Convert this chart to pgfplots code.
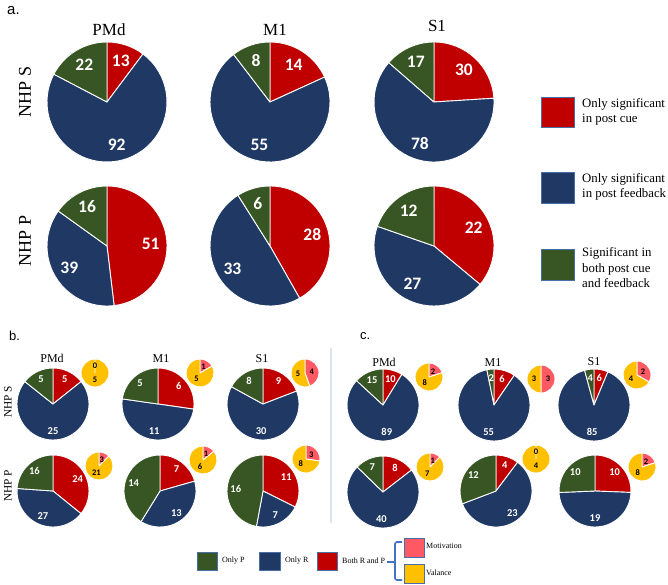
\documentclass[border=0pt]{standalone}
\usepackage{pgfplots}
\pgfplotsset{compat=1.18}
\usepackage{fontspec}
\setmainfont{Liberation Serif}
\newfontfamily\calfont{Carlito}
\newfontfamily\arialfont{Liberation Sans}

\definecolor{pRed}{HTML}{C00000}
\definecolor{pBlue}{HTML}{1F3864}
\definecolor{pGreen}{HTML}{375623}
\definecolor{pPink}{HTML}{FF5A64}
\definecolor{pYellow}{HTML}{FFC000}
\definecolor{legEdge}{HTML}{4A6FA8}
\definecolor{braceC}{HTML}{4472C4}
\definecolor{sepC}{HTML}{DCE3F0}

\tikzset{
 lbigA/.style={font=\calfont\bfseries\fontsize{17.5bp}{18bp}\selectfont, text=white, inner sep=0pt},
 lmid/.style={font=\calfont\bfseries\fontsize{10.5bp}{11bp}\selectfont, text=white, inner sep=0pt},
 lsmall/.style={font=\calfont\bfseries\fontsize{8.5bp}{9bp}\selectfont, text=black, inner sep=0pt},
 ttl/.style={font=\fontsize{17bp}{18bp}\selectfont, anchor=base, inner sep=0pt},
 ttlb/.style={font=\fontsize{12bp}{13bp}\selectfont, anchor=base, inner sep=0pt},
 rowA/.style={font=\fontsize{18bp}{19bp}\selectfont, rotate=90, inner sep=0pt},
 rowB/.style={font=\fontsize{11.3bp}{12bp}\selectfont, rotate=90, inner sep=0pt},
 legA/.style={font=\fontsize{12.8bp}{15.5bp}\selectfont, anchor=west, align=left, inner sep=0pt},
 legB/.style={font=\fontsize{8bp}{9bp}\selectfont, anchor=west, inner sep=0pt},
 panel/.style={font=\arialfont\fontsize{15bp}{16bp}\selectfont, anchor=west, inner sep=0pt},
 panelb/.style={font=\arialfont\fontsize{13bp}{14bp}\selectfont, anchor=west, inner sep=0pt},
}

% #1 cx, #2 cy (axis units = px), #3 radius, #4 label radius fraction, #5 label style, #6 value/colour list
\newcommand\drawpie[6]{%
  \gdef\pietot{0}%
  \foreach \pv/\pc in {#6}{\pgfmathsetmacro\pietmp{\pietot+\pv}\global\let\pietot\pietmp}%
  \gdef\piecur{90}%
  \foreach \pv/\pc in {#6}{%
    \pgfmathsetmacro\pieend{\piecur-360*(\pv/\pietot)}%
    \edef\piecmd{\noexpand\fill[fill=\pc, draw=white, line width=0.9bp, line join=round] (axis cs:#1,#2) -- ++(\piecur:#3bp) arc[start angle=\piecur, end angle=\pieend, radius=#3bp] -- cycle;}%
    \piecmd
    \global\let\piecur\pieend
  }%
  \gdef\piecur{90}%
  \foreach \pv/\pc in {#6}{%
    \pgfmathsetmacro\pieend{\piecur-360*(\pv/\pietot)}%
    \pgfmathsetmacro\piemid{(\piecur+\pieend)/2}%
    \pgfmathsetmacro\pierad{#3*#4}%
    \edef\piecmd{\noexpand\path (axis cs:#1,#2) ++(\piemid:\pierad bp) node[#5] {\pv};}%
    \piecmd
    \global\let\piecur\pieend
  }%
}

\begin{document}
\begin{tikzpicture}
\begin{axis}[width=668bp, height=585bp, scale only axis,
  xmin=0, xmax=668, ymin=0, ymax=585, y dir=reverse,
  hide axis, clip=false]

% ---------- panel a ----------
\node[panel] at (axis cs:7,11) {a.};
\node[ttl] at (axis cs:109,36) {PMd};
\node[ttl] at (axis cs:275,36) {M1};
\node[ttl] at (axis cs:437,32) {S1};
\node[rowA] at (axis cs:25,92) {NHP S};
\node[rowA] at (axis cs:25,241) {NHP P};

\drawpie{107}{102}{60}{0.73}{lbigA}{13/pRed,92/pBlue,22/pGreen}
\drawpie{270}{102}{60}{0.73}{lbigA}{14/pRed,55/pBlue,8/pGreen}
\drawpie{434}{102}{60}{0.73}{lbigA}{30/pRed,78/pBlue,17/pGreen}
\drawpie{107}{246}{60}{0.73}{lbigA}{51/pRed,39/pBlue,16/pGreen}
\drawpie{270}{246}{60}{0.73}{lbigA}{28/pRed,33/pBlue,6/pGreen}
\drawpie{434}{246}{60}{0.73}{lbigA}{22/pRed,27/pBlue,12/pGreen}

\draw[fill=pRed, draw=legEdge, line width=0.8bp] (axis cs:541,97) rectangle (axis cs:574,127);
\node[legA] at (axis cs:582,112) {Only significant\\in post cue};
\draw[fill=pBlue, draw=legEdge, line width=0.8bp] (axis cs:541,172) rectangle (axis cs:574,203);
\node[legA] at (axis cs:582,187) {Only significant\\in post feedback};
\draw[fill=pGreen, draw=legEdge, line width=0.8bp] (axis cs:541,249) rectangle (axis cs:574,280);
\node[legA] at (axis cs:582,268) {Significant in\\both post cue\\and feedback};

% ---------- panel b ----------
\node[panelb] at (axis cs:9,336) {b.};
\node[ttlb] at (axis cs:52,362) {PMd};
\node[ttlb] at (axis cs:161,362) {M1};
\node[ttlb] at (axis cs:262,362) {S1};
\node[rowB] at (axis cs:8,402) {NHP S};
\node[rowB] at (axis cs:8,486) {NHP P};

\drawpie{53}{404}{36}{0.76}{lmid}{5/pRed,25/pBlue,5/pGreen}
\drawpie{158}{404}{36}{0.76}{lmid}{6/pRed,11/pBlue,5/pGreen}
\drawpie{263}{404}{36}{0.76}{lmid}{9/pRed,30/pBlue,8/pGreen}
\drawpie{53}{491}{36}{0.76}{lmid}{24/pRed,27/pBlue,16/pGreen}
\drawpie{160}{491}{36}{0.76}{lmid}{7/pRed,13/pBlue,14/pGreen}
\drawpie{263}{491}{36}{0.76}{lmid}{11/pRed,7/pBlue,16/pGreen}

\drawpie{95}{373}{14}{0.5}{lsmall}{0/pPink,5/pYellow}
\drawpie{200}{373}{14}{0.5}{lsmall}{1/pPink,5/pYellow}
\drawpie{305}{373}{14}{0.5}{lsmall}{4/pPink,5/pYellow}
\drawpie{99}{466}{14}{0.5}{lsmall}{3/pPink,21/pYellow}
\drawpie{203}{460}{14}{0.5}{lsmall}{1/pPink,6/pYellow}
\drawpie{306}{459}{14}{0.5}{lsmall}{3/pPink,8/pYellow}

\draw[sepC, line width=1.5bp] (axis cs:331,348) -- (axis cs:331,523);

% ---------- panel c ----------
\node[panelb] at (axis cs:360,336) {c.};
\node[ttlb] at (axis cs:384,366) {PMd};
\node[ttlb] at (axis cs:493,366) {M1};
\node[ttlb] at (axis cs:594,365) {S1};

\drawpie{383}{405}{36}{0.76}{lmid}{10/pRed,89/pBlue,15/pGreen}
\drawpie{494}{405}{36}{0.76}{lmid}{6/pRed,55/pBlue,2/pGreen}
\drawpie{594}{405}{36}{0.76}{lmid}{6/pRed,85/pBlue,4/pGreen}
\drawpie{383}{492}{36}{0.76}{lmid}{8/pRed,40/pBlue,7/pGreen}
\drawpie{496}{491}{36}{0.76}{lmid}{4/pRed,23/pBlue,12/pGreen}
\drawpie{595}{491}{36}{0.76}{lmid}{10/pRed,19/pBlue,10/pGreen}

\drawpie{429}{377}{14}{0.5}{lsmall}{2/pPink,8/pYellow}
\drawpie{541}{379}{14}{0.5}{lsmall}{3/pPink,3/pYellow}
\drawpie{637}{375}{14}{0.5}{lsmall}{2/pPink,4/pYellow}
\drawpie{430}{467}{14}{0.5}{lsmall}{1/pPink,7/pYellow}
\drawpie{536}{459}{14}{0.5}{lsmall}{0/pPink,4/pYellow}
\drawpie{642}{467}{14}{0.5}{lsmall}{2/pPink,8/pYellow}

% ---------- bottom legend ----------
\draw[fill=pGreen, draw=legEdge, line width=0.7bp] (axis cs:197,552) rectangle (axis cs:217,570);
\node[legB] at (axis cs:222,561) {Only P};
\draw[fill=pBlue, draw=legEdge, line width=0.7bp] (axis cs:259,552) rectangle (axis cs:280,570);
\node[legB] at (axis cs:285,561) {Only R};
\draw[fill=pRed, draw=legEdge, line width=0.7bp] (axis cs:317,552) rectangle (axis cs:337,570);
\node[legB] at (axis cs:342,561) {Both R and P};
\draw[braceC, line width=1.6bp, rounded corners=2bp] (axis cs:402,542) -- (axis cs:395,542) -- (axis cs:395,580) -- (axis cs:402,580);
\draw[braceC, line width=1.6bp] (axis cs:387,562) -- (axis cs:395,562);
\draw[fill=pPink, draw=legEdge, line width=0.7bp] (axis cs:404,538) rectangle (axis cs:424,557);
\node[legB] at (axis cs:426,546) {Motivation};
\draw[fill=pYellow, draw=legEdge, line width=0.7bp] (axis cs:404,564) rectangle (axis cs:424,583);
\node[legB] at (axis cs:426,573) {Valance};
\end{axis}
\pgfresetboundingbox
\path (current axis.south west) rectangle (current axis.north east);
\end{tikzpicture}
\end{document}
